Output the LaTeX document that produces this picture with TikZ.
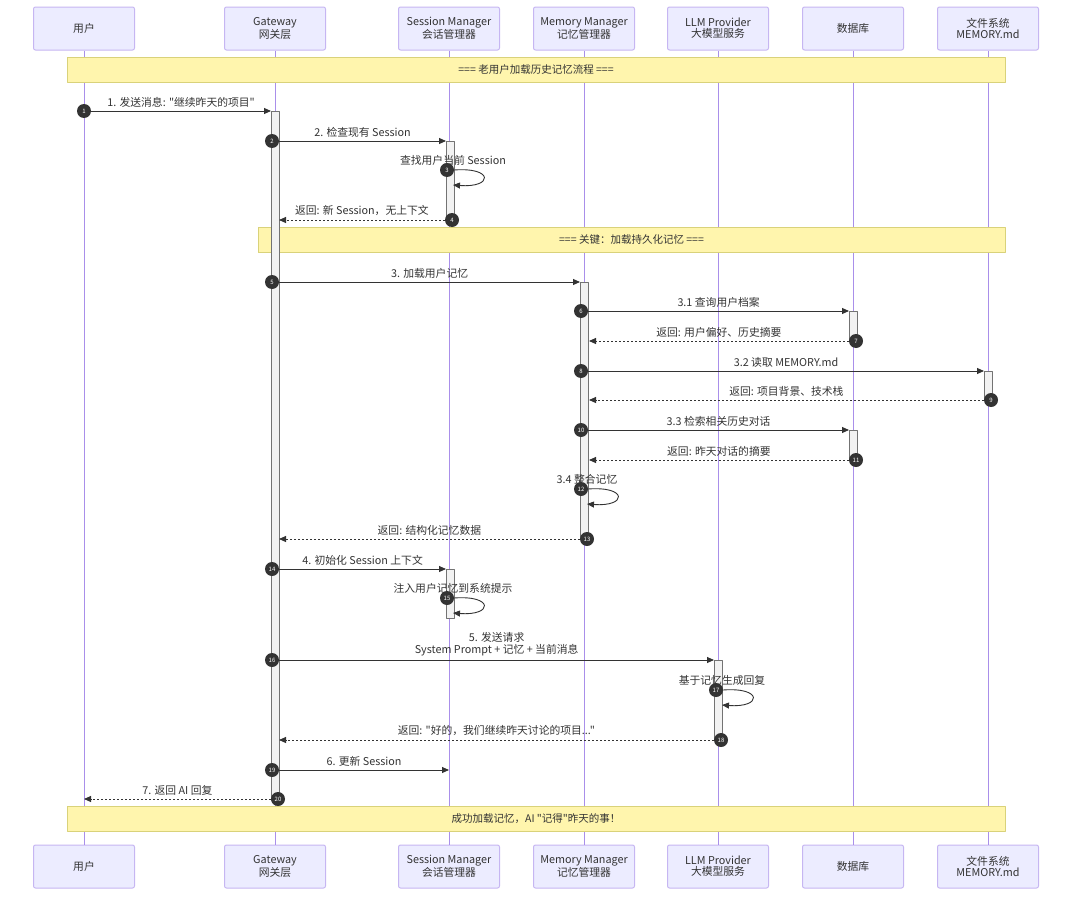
\documentclass[tikz,border=0pt]{standalone}
\usepackage{fontspec}
\setmainfont{Noto Sans CJK SC}[Ligatures=TeXOff]
\usetikzlibrary{arrows.meta}
\definecolor{actfill}{HTML}{ECECFF}
\definecolor{actdraw}{HTML}{C6B6F2}
\definecolor{lifecol}{HTML}{A98FEA}
\definecolor{notefill}{HTML}{FFF5AD}
\definecolor{notedraw}{HTML}{D9D27A}
\definecolor{txt}{HTML}{333333}
\begin{document}
\begin{tikzpicture}[x=1pt,y=-1pt,line join=round,>={Triangle[length=7pt,width=6pt]},text=txt]
		\tikzset{actor/.style={draw=actdraw,fill=actfill,line width=1pt,rounded corners=2pt,minimum width=101pt,minimum height=43pt,inner sep=0pt,align=center,font=\fontsize{10.8}{11}\selectfont},
			lifeline/.style={draw=lifecol,line width=1pt},
			note/.style={draw=notedraw,fill=notefill,line width=0.8pt,minimum height=25pt,inner sep=0pt,font=\fontsize{10.5}{11}\selectfont},
			actbar/.style={draw=black!55,fill=black!5,line width=0.7pt},
			msg/.style={draw=txt,line width=0.9pt,->},
			ret/.style={msg,dash pattern=on 2pt off 2pt},
			msglabel/.style={font=\fontsize{10.8}{12}\selectfont,align=center,inner sep=1.5pt},
			num/.style={circle,fill=txt,text=white,minimum size=14pt,inner sep=0pt,font=\fontsize{6}{6}\selectfont}}
		\useasboundingbox (0,0) rectangle (1080,902);
		% participants and lifelines
		\foreach \x/\n/\t in {84/user/用户, 275/gw/{Gateway\\网关层}, 449/sm/{Session Manager\\会话管理器}, 584/mm/{Memory Manager\\记忆管理器}, 718/llm/{LLM Provider\\大模型服务}, 853/db/数据库, 988/fs/{文件系统\\MEMORY.md}}
		{
			\node[actor] (\n-top) at (\x,28.5) {\t};
			\node[actor] (\n-bot) at (\x,866.5) {\t};
			\draw[lifeline] (\n-top) -- (\n-bot);
		}
		% notes
		\node[note,minimum width=938pt] (note1) at (536,69.5) {=== 老用户加载历史记忆流程 ===};
		\node[note,minimum width=747pt] (note2) at (631.5,240) {=== 关键：加载持久化记忆 ===};
		\node[note,minimum width=938pt] (note3) at (536,818.5) {成功加载记忆，AI "记得"昨天的事！};
		% activations
		\foreach \xa/\ya/\yb in {271/111/800, 446/141/220, 580/282/539, 849/311/341, 984/371/400, 849/430/460, 446/569/618, 714/660/740}
		\draw[actbar] (\xa,\ya) rectangle (\xa+8,\yb);
		% messages
		\foreach \i/\xs/\xe/\y/\sty/\lab in {1/84/271/111/msg/{1. 发送消息: "继续昨天的项目"},
			2/272/446/141/msg/{2. 检查现有 Session},
			4/452/279/220/ret/{返回: 新 Session，无上下文},
			5/272/580/282/msg/{3. 加载用户记忆},
			6/581/849/311/msg/{3.1 查询用户档案},
			7/856/589/341/ret/{返回: 用户偏好、历史摘要},
			8/581/984/371/msg/{3.2 读取 MEMORY.md},
			9/991/589/400/ret/{返回: 项目背景、技术栈},
			10/581/849/430/msg/{3.3 检索相关历史对话},
			11/856/589/460/ret/{返回: 昨天对话的摘要},
			13/587/279/539/ret/{返回: 结构化记忆数据},
			14/272/446/569/msg/{4. 初始化 Session 上下文},
			16/272/714/660/msg/{5. 发送请求\\System Prompt + 记忆 + 当前消息},
			18/721/279/740/ret/{返回: "好的，我们继续昨天讨论的项目..."},
			19/272/449/770/msg/{6. 更新 Session},
			20/278/84/799/ret/{7. 返回 AI 回复}}
		{
			\node[num] (n\i) at (\xs,\y) {\i};
			\coordinate (e\i) at (\xe,\y);
			\draw[\sty] (n\i) -- (e\i) node[msglabel,midway,above=2pt] {\lab};
		}
		% self calls
		\foreach \i/\x/\y/\lab in {3/447/170/{查找用户当前 Session}, 12/581/489/{3.4 整合记忆}, 15/447/598/{注入用户记忆到系统提示}, 17/716/690/{基于记忆生成回复}}
		{
			\node[msglabel] (l\i) at (\x+6,\y-10) {\lab};
			\node[num] (n\i) at (\x,\y) {\i};
			\coordinate (e\i) at (\x+6,\y+15);
			\draw[msg] (n\i.east) .. controls +(40,-3) and +(40,3) .. (e\i);
		}
\end{tikzpicture}
\end{document}
